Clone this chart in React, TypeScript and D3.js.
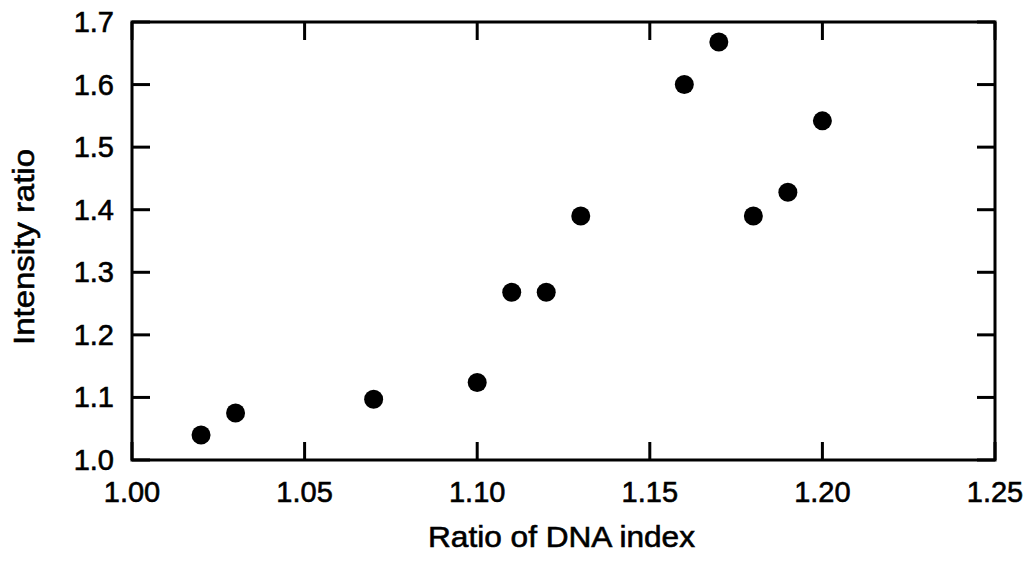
import React, { useRef, useEffect } from "react";
import * as d3 from "d3";

const dnaIndex = [1.02, 1.03, 1.07, 1.1, 1.11, 1.12, 1.13, 1.16, 1.17, 1.18, 1.19, 1.2];
const intensity = [1.04, 1.075, 1.097, 1.124, 1.268, 1.268, 1.39, 1.6, 1.668, 1.39, 1.428, 1.542];
const xTicks = [1.0, 1.05, 1.1, 1.15, 1.2, 1.25];
const yTicks = [1.0, 1.1, 1.2, 1.3, 1.4, 1.5, 1.6, 1.7];

const W = 1028;
const H = 563;

const App: React.FC = () => {
  const svgRef = useRef<SVGSVGElement>(null);

  useEffect(() => {
    if (!svgRef.current) return;
    const svg = d3.select(svgRef.current);
    svg.selectAll("*").remove();

    const left = 132, right = 995, top = 22, bottom = 460;
    const tickLen = 18;
    const font = "'Liberation Sans', Arial, Helvetica, sans-serif";

    const x = d3.scaleLinear().domain([1.0, 1.25]).range([left, right]);
    const y = d3.scaleLinear().domain([1.0, 1.7]).range([bottom, top]);

    const g = svg.append("g");

    const fmtX = d3.format(".2f");
    const fmtY = d3.format(".1f");

    // ticks on all four sides, pointing inward
    g.selectAll("line.xb")
      .data(xTicks)
      .join("line")
      .attr("x1", (d) => x(d)).attr("x2", (d) => x(d))
      .attr("y1", bottom).attr("y2", bottom - tickLen)
      .attr("stroke", "#000").attr("stroke-width", 3);
    g.selectAll("line.xt")
      .data(xTicks)
      .join("line")
      .attr("x1", (d) => x(d)).attr("x2", (d) => x(d))
      .attr("y1", top).attr("y2", top + tickLen)
      .attr("stroke", "#000").attr("stroke-width", 3);
    g.selectAll("line.yl")
      .data(yTicks)
      .join("line")
      .attr("x1", left).attr("x2", left + tickLen)
      .attr("y1", (d) => y(d)).attr("y2", (d) => y(d))
      .attr("stroke", "#000").attr("stroke-width", 3);
    g.selectAll("line.yr")
      .data(yTicks)
      .join("line")
      .attr("x1", right).attr("x2", right - tickLen)
      .attr("y1", (d) => y(d)).attr("y2", (d) => y(d))
      .attr("stroke", "#000").attr("stroke-width", 3);

    // frame
    g.append("rect")
      .attr("x", left).attr("y", top)
      .attr("width", right - left).attr("height", bottom - top)
      .attr("fill", "none").attr("stroke", "#000").attr("stroke-width", 3);

    // tick labels
    g.selectAll("text.xl")
      .data(xTicks)
      .join("text")
      .attr("x", (d) => x(d)).attr("y", bottom + 42)
      .attr("text-anchor", "middle")
      .attr("font-family", font).attr("font-size", 29)
      .attr("stroke", "#000").attr("stroke-width", 0.6)
      .text((d) => fmtX(d));
    g.selectAll("text.yl")
      .data(yTicks)
      .join("text")
      .attr("x", left - 18).attr("y", (d) => y(d) + 10)
      .attr("text-anchor", "end")
      .attr("font-family", font).attr("font-size", 29)
      .attr("stroke", "#000").attr("stroke-width", 0.6)
      .text((d) => fmtY(d));

    // axis titles
    g.append("text")
      .attr("x", 428).attr("y", 547)
      .attr("textLength", 267)
      .attr("lengthAdjust", "spacingAndGlyphs")
      .attr("font-family", font).attr("font-size", 30)
      .attr("stroke", "#000").attr("stroke-width", 0.6)
      .text("Ratio of DNA index");
    g.append("text")
      .attr("transform", `translate(34, 345) rotate(-90)`)
      .attr("textLength", 196)
      .attr("lengthAdjust", "spacingAndGlyphs")
      .attr("font-family", font).attr("font-size", 30)
      .attr("stroke", "#000").attr("stroke-width", 0.6)
      .text("Intensity ratio");

    // points
    g.selectAll("circle")
      .data(dnaIndex.map((d, i) => ({ x: d, y: intensity[i] })))
      .join("circle")
      .attr("cx", (d) => x(d.x))
      .attr("cy", (d) => y(d.y))
      .attr("r", 9.5)
      .attr("fill", "#000");
  }, []);

  return (
    <div style={{ position: "absolute", left: 0, top: 0 }}>
      <svg ref={svgRef} width={W} height={H} style={{ display: "block", background: "#fff" }} />
    </div>
  );
};

export default App;
